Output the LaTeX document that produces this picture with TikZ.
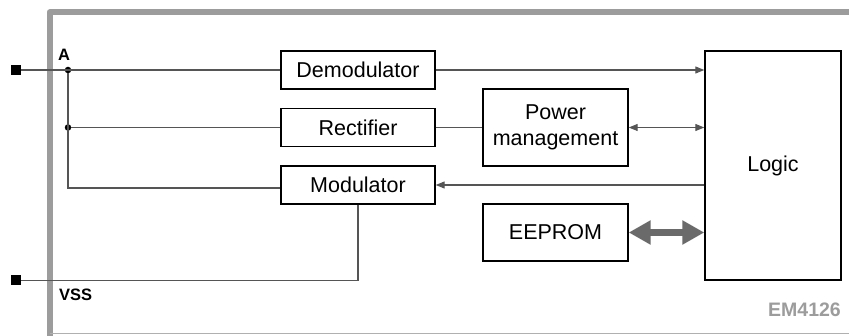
\documentclass[tikz,border=0pt]{standalone}
\usepackage{fontspec}
\setmainfont{Liberation Sans}
\usetikzlibrary{arrows.meta}
\definecolor{framegray}{HTML}{9C9C9C}
\definecolor{wiregray}{HTML}{555555}
\definecolor{biggray}{HTML}{6A6A6A}
\begin{document}
\begin{tikzpicture}[x=1pt,y=-1pt,
  blockbox/.style={draw=black,line width=1.4pt,fill=white,minimum width=154pt,minimum height=38pt,inner sep=0pt,align=center,font=\fontsize{21.5}{25.5}\selectfont},
  wire/.style={draw=wiregray,line width=1.1pt},
  tipw/.style={-{Triangle[length=9pt,width=7pt]}},
  term/.style={fill=black,minimum size=10pt,inner sep=0pt},
  jdot/.style={circle,fill=black,minimum size=6.5pt,inner sep=0pt},
  lbl/.style={font=\fontsize{16.5}{18}\selectfont\bfseries,inner sep=0pt}
  ]
\useasboundingbox (0,0) rectangle (849,336);
% frame
\draw[framegray,line width=6pt,line join=round] (49.5,345) -- (49.5,12.5) -- (860,12.5);
\draw[framegray!80,line width=1.5pt] (49.5,333.5) -- (860,333.5);
% nodes
\node[term] (tA) at (16,70) {};
\node[term] (tV) at (16,280.5) {};
\node[jdot] (dA) at (68,70) {};
\node[jdot] (dR) at (68,127.5) {};
\coordinate (cM) at (68,188);
\node[blockbox] (demod) at (358,70) {Demodulator};
\node[blockbox] (rect) at (358,127.5) {Rectifier};
\node[blockbox] (mod) at (358,185) {Modulator};
\node[blockbox,minimum width=145pt,minimum height=77pt] (pm) at (555.5,127.5) {Power\\management};
\node[blockbox,minimum width=145pt,minimum height=57pt] (ee) at (555.5,232.5) {EEPROM};
\node[blockbox,minimum width=136pt,minimum height=229pt] (logic) at (773,165.5) {Logic};
\node[lbl,anchor=base west] (la) at (58,61) {A};
\node[lbl,anchor=base west] (lv) at (59,301) {VSS};
\node[font=\fontsize{19.5}{22}\selectfont\bfseries,text=framegray,inner sep=0pt,anchor=base east] (em) at (841,317) {EM4126};
% wires
\draw[wire] (tA) -- (demod.west);
\draw[wire] (dA) -- (cM) -- (cM -| mod.west);
\draw[wire] (dR) -- (rect.west);
\draw[wire] (rect.east) -- (pm.west);
\draw[wire,tipw] (demod.east) -- (demod.east -| logic.west);
\draw[wire,{Triangle[length=9pt,width=7pt]}-{Triangle[length=9pt,width=7pt]}] (pm.east) -- (pm.east -| logic.west);
\draw[wire,tipw] (mod.east -| logic.west) -- (mod.east);
\draw[wire] (mod.south) -- (mod.south |- tV) -- (tV);
\draw[biggray,line width=7pt,{Triangle[length=22pt,width=23pt]}-{Triangle[length=22pt,width=23pt]}] (ee.east) -- (ee.east -| logic.west);
\end{tikzpicture}
\end{document}
